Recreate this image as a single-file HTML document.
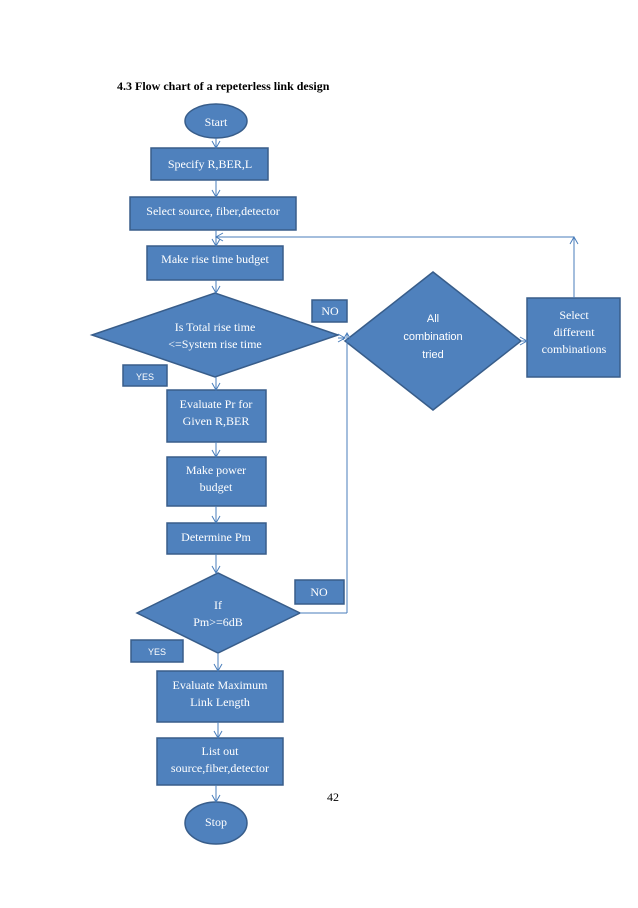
<!DOCTYPE html>
<html><head><meta charset="utf-8"><style>
body{margin:0;background:#fff}
svg text{font-family:"Liberation Serif",serif;font-size:12px;fill:#fff}
</style></head><body>
<svg width="638" height="903" viewBox="0 0 638 903" xmlns="http://www.w3.org/2000/svg">
<defs><marker id="a" markerWidth="10" markerHeight="10" refX="8" refY="5" orient="auto" markerUnits="userSpaceOnUse"><path d="M1,1 L8,5 L1,9" fill="none" stroke="#4a7ebb" stroke-width="1"/></marker></defs>
<text x="117" y="90" style="fill:#000;font-weight:bold;font-size:12px">4.3  Flow chart of a repeterless link design</text>
<g fill="#4f81bd" stroke="#385d8a" stroke-width="1.5">
<ellipse cx="216" cy="121" rx="31" ry="17"/>
<rect x="151" y="148" width="117" height="32"/>
<rect x="130" y="197" width="166" height="33"/>
<rect x="147" y="246" width="136" height="34"/>
<polygon points="92,335 215,293 338,335 215,377"/>
<rect x="312" y="300" width="35" height="22"/>
<polygon points="345,341 433,272 521,341 433,410"/>
<rect x="527" y="298" width="93" height="79"/>
<rect x="123" y="365" width="44" height="21"/>
<rect x="167" y="390" width="99" height="52"/>
<rect x="167" y="457" width="99" height="49"/>
<rect x="167" y="523" width="99" height="31"/>
<polygon points="137,613 218,573 300,613 218,653"/>
<rect x="295" y="580" width="49" height="24"/>
<rect x="131" y="640" width="52" height="22"/>
<rect x="157" y="671" width="126" height="51"/>
<rect x="157" y="738" width="126" height="47"/>
<ellipse cx="216" cy="823" rx="31" ry="21"/>
</g>
<g stroke="#4a7ebb" stroke-width="1" fill="none">
<line x1="216" y1="138" x2="216" y2="148" marker-end="url(#a)"/>
<line x1="216" y1="180" x2="216" y2="197" marker-end="url(#a)"/>
<line x1="216" y1="230" x2="216" y2="246" marker-end="url(#a)"/>
<line x1="574" y1="237" x2="216" y2="237" marker-end="url(#a)"/>
<line x1="574" y1="298" x2="574" y2="237" marker-end="url(#a)"/>
<line x1="216" y1="280" x2="216" y2="293" marker-end="url(#a)"/>
<line x1="338" y1="338" x2="345" y2="338" marker-end="url(#a)"/>
<line x1="521" y1="341" x2="527" y2="341" marker-end="url(#a)"/>
<line x1="216" y1="377" x2="216" y2="390" marker-end="url(#a)"/>
<line x1="216" y1="442" x2="216" y2="457" marker-end="url(#a)"/>
<line x1="216" y1="506" x2="216" y2="523" marker-end="url(#a)"/>
<line x1="216" y1="554" x2="216" y2="573" marker-end="url(#a)"/>
<line x1="300" y1="613" x2="347" y2="613"/>
<line x1="347" y1="613" x2="347" y2="333" marker-end="url(#a)"/>
<line x1="218" y1="653" x2="218" y2="671" marker-end="url(#a)"/>
<line x1="218" y1="722" x2="218" y2="738" marker-end="url(#a)"/>
<line x1="216" y1="785" x2="216" y2="802" marker-end="url(#a)"/>
</g>
<g text-anchor="middle">
<text x="216" y="126">Start</text>
<text x="210" y="168">Specify R,BER,L</text>
<text x="213" y="215">Select source, fiber,detector</text>
<text x="215" y="263">Make rise time budget</text>
<text x="215" y="331">Is Total rise time</text>
<text x="215" y="348">&lt;=System rise time</text>
<text x="330" y="315">NO</text>
<text x="433" y="322" style="font-family:'Liberation Sans',sans-serif;font-size:11px">All</text>
<text x="433" y="340" style="font-family:'Liberation Sans',sans-serif;font-size:11px">combination</text>
<text x="433" y="358" style="font-family:'Liberation Sans',sans-serif;font-size:11px">tried</text>
<text x="574" y="319">Select</text>
<text x="574" y="336">different</text>
<text x="574" y="353">combinations</text>
<text x="145" y="380" style="font-family:'Liberation Sans',sans-serif;font-size:9px">YES</text>
<text x="216" y="408">Evaluate Pr for</text>
<text x="216" y="425">Given R,BER</text>
<text x="216" y="474">Make power</text>
<text x="216" y="491">budget</text>
<text x="216" y="541">Determine Pm</text>
<text x="218" y="609">If</text>
<text x="218" y="626">Pm&gt;=6dB</text>
<text x="319" y="596">NO</text>
<text x="157" y="655" style="font-family:'Liberation Sans',sans-serif;font-size:9px">YES</text>
<text x="220" y="689">Evaluate Maximum</text>
<text x="220" y="706">Link Length</text>
<text x="220" y="755">List out</text>
<text x="220" y="772">source,fiber,detector</text>
<text x="216" y="826">Stop</text>
<text x="333" y="801" style="fill:#000">42</text>
</g>
</svg>
</body></html>
